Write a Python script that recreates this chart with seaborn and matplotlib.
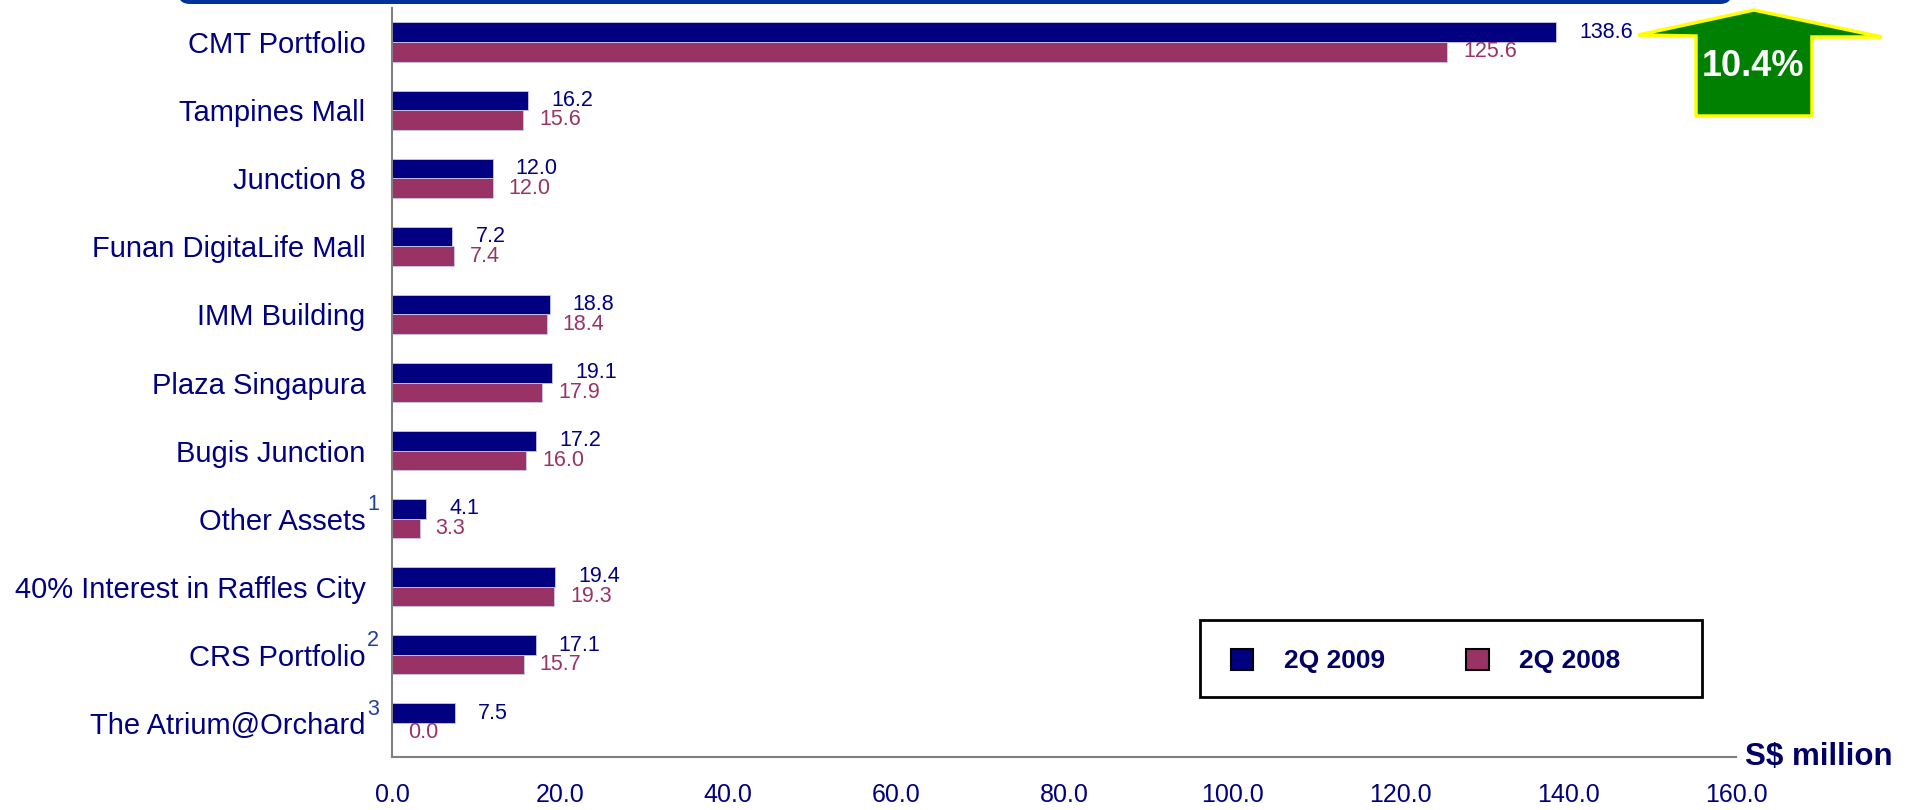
import matplotlib
matplotlib.use("Agg")
import matplotlib.pyplot as plt
import matplotlib.patches as mpatches
import seaborn as sns
import pandas as pd

# data (S$ million)
properties = ["CMT Portfolio", "Tampines Mall", "Junction 8", "Funan DigitaLife Mall",
              "IMM Building", "Plaza Singapura", "Bugis Junction", "Other Assets",
              "40% Interest in Raffles City", "CRS Portfolio", "The Atrium@Orchard"]
q2_2009 = [138.6, 16.2, 12.0, 7.2, 18.8, 19.1, 17.2, 4.1, 19.4, 17.1, 7.5]
q2_2008 = [125.6, 15.6, 12.0, 7.4, 18.4, 17.9, 16.0, 3.3, 19.3, 15.7, 0.0]
periods = ["2Q 2009", "2Q 2008"]
footnotes = {"Other Assets": "1", "CRS Portfolio": "2", "The Atrium@Orchard": "3"}
xticks = [0, 20, 40, 60, 80, 100, 120, 140, 160]
growth = "10.4%"
unit = "S$ million"

NAVY = "#000080"
PLUM = "#993366"
DARK = "#000066"
W, H = 1919, 810

df = pd.DataFrame({
    "property": properties * 2,
    "period": [periods[0]] * len(properties) + [periods[1]] * len(properties),
    "value": q2_2009 + q2_2008,
})

sns.set_style("white")
plt.rcParams["font.family"] = ["Liberation Sans", "DejaVu Sans"]

fig = plt.figure(figsize=(W / 100, H / 100), dpi=100)
ax = fig.add_axes([392 / W, 1 - 757 / H, (1736 - 392) / W, (757 - 8) / H])

sns.barplot(data=df, x="value", y="property", hue="period", order=properties,
            hue_order=periods, palette=[NAVY, PLUM], saturation=1, orient="h",
            width=0.575, errorbar=None, edgecolor="#c8c8e8", linewidth=0.6,
            legend=False, ax=ax)

ax.set_xlim(0, 160)
ax.set_ylim(len(properties) - 0.5, -0.5)
ax.set_xticks(xticks)
ax.set_xticklabels([f"{t:.1f}" for t in xticks])
ax.set_xlabel("")
ax.set_ylabel("")
for s in ["top", "right"]:
    ax.spines[s].set_visible(False)
for s in ["left", "bottom"]:
    ax.spines[s].set_color("#808080")
    ax.spines[s].set_linewidth(1.5)
ax.tick_params(axis="x", length=5, width=1.2, color="#808080", pad=14,
               labelsize=18, labelcolor=NAVY)
ax.tick_params(axis="y", length=0, pad=19, labelsize=21, labelcolor=NAVY)

# value labels
for cont, col, pad in zip(ax.containers, [NAVY, PLUM], [16.5, 11.5]):
    ax.bar_label(cont, fmt="{:.1f}", padding=pad, color=col, fontsize=15.5)

# footnote markers on the category labels
for i, p in enumerate(properties):
    if p in footnotes:
        ax.annotate(footnotes[p], xy=(0, i), xycoords=("axes fraction", "data"),
                    xytext=(-18, 10), textcoords="offset points",
                    ha="left", va="center", fontsize=15.5, color="#1f3fa0")

# legend with its own frame
handles = [mpatches.Patch(facecolor=c, edgecolor="black", linewidth=1.5, label=p)
           for c, p in zip([NAVY, PLUM], periods)]
leg = fig.legend(handles=handles, loc="center left",
                 bbox_to_anchor=(1231 / W, 1 - 661 / H), ncol=2, frameon=False,
                 borderpad=0, borderaxespad=0, handlelength=0.85, handleheight=0.85,
                 handletextpad=1.14, columnspacing=3.1,
                 prop={"weight": "bold", "size": 19})
for t in leg.get_texts():
    t.set_color(DARK)
fig.add_artist(mpatches.Rectangle((12.00, (H - 697) / 100), 5.02, 0.77,
                                  transform=fig.dpi_scale_trans, fill=False,
                                  edgecolor="black", linewidth=2))

fig.text(1745 / W, 1 - 757 / H, unit, ha="left", va="center",
         fontsize=22.5, weight="bold", color=DARK)

# blue title band at the top edge
fig.add_artist(mpatches.FancyBboxPatch((1.78, (H - 4) / 100), 15.54, 0.4,
                                       boxstyle="round,pad=0,rounding_size=0.12",
                                       transform=fig.dpi_scale_trans,
                                       facecolor="#003399", edgecolor="none"))

# growth arrow
arrow_px = [(1754, 10), (1882, 37), (1812, 37), (1812, 116), (1696, 116),
            (1696, 36), (1638, 35)]
arrow_in = [(x / 100, (H - y) / 100) for x, y in arrow_px]
fig.add_artist(mpatches.Polygon(arrow_in, closed=True, transform=fig.dpi_scale_trans,
                                facecolor="#008000", edgecolor="#ffff00",
                                linewidth=2.5, joinstyle="miter"))
fig.text(1753 / W, 1 - 67 / H, growth, ha="center", va="center",
         fontsize=26, weight="bold", color="white")

fig.savefig("out.png", dpi=100)
